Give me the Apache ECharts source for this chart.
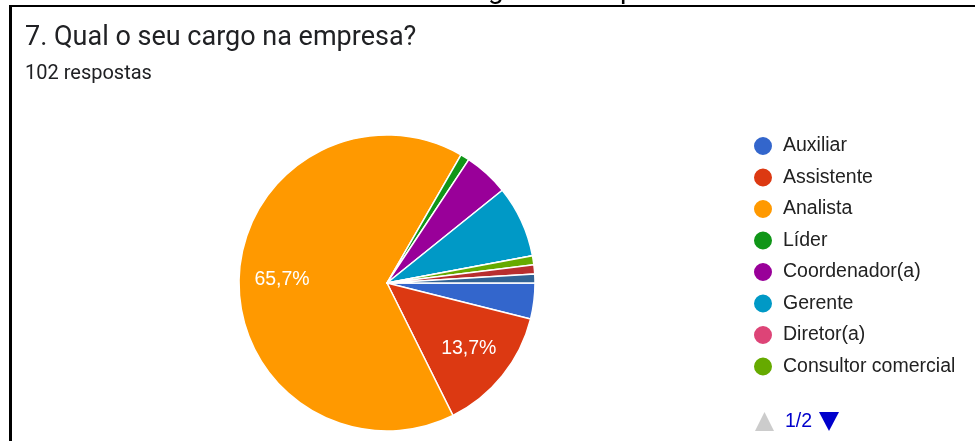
<!DOCTYPE html>
<html>
<head>
<meta charset="utf-8">
<script src="https://cdn.jsdelivr.net/npm/echarts@6/dist/echarts.min.js"></script>
<style>
  html, body { margin: 0; padding: 0; background: #fff; }
  #chart { width: 975px; height: 441px; }
</style>
</head>
<body>
<div id="chart"></div>
<script>
// respostas por cargo (102 no total), na ordem da legenda
const cargos = ['Auxiliar', 'Assistente', 'Analista', 'Líder', 'Coordenador(a)', 'Gerente',
  'Diretor(a)', 'Consultor comercial', 'Supervisor(a)', 'Proprietário(a)'];
const respostas = [4, 14, 67, 1, 5, 8, 0, 1, 1, 1];
const cores = ['#3366cc', '#dc3912', '#ff9900', '#109618', '#990099', '#0099c6',
  '#dd4477', '#66aa00', '#b82e2e', '#316395'];
const paginaLegenda = '1/2';
const total = respostas.reduce((a, b) => a + b, 0);

const chart = echarts.init(document.getElementById('chart'));
const dados = cargos.map((n, i) => ({ name: n, value: respostas[i], itemStyle: { color: cores[i] } }));

const option = {
  backgroundColor: '#fff',
  animation: false,
  title: {
    text: '7. Qual o seu cargo na empresa?',
    subtext: total + ' respostas',
    left: 20,
    top: 20,
    itemGap: 12,
    textStyle: { fontFamily: 'Roboto', fontSize: 27, fontWeight: 'normal', color: '#202124' },
    subtextStyle: { fontFamily: 'Roboto', fontSize: 20, color: '#202124' }
  },
  legend: {
    orient: 'vertical',
    left: 747,
    top: 130,
    icon: 'circle',
    itemWidth: 20,
    itemHeight: 20,
    itemGap: 9.5,
    data: cargos.slice(0, 8), // página 1 de 2
    textStyle: { fontFamily: 'Liberation Sans', fontSize: 19.5, color: '#222', padding: [0, 0, 0, 5] }
  },
  graphic: [
    { type: 'rect', shape: { x: 9, y: 5, width: 966, height: 2 }, style: { fill: '#000' } },
    { type: 'rect', shape: { x: 9, y: 5, width: 3, height: 436 }, style: { fill: '#000' } },
    { type: 'text', x: 488, y: 5, style: { text: 'g', fontFamily: 'Roboto', fontSize: 28, fill: '#000', verticalAlign: 'bottom' } },
    { type: 'text', x: 620, y: 5, style: { text: 'p', fontFamily: 'Roboto', fontSize: 28, fill: '#000', verticalAlign: 'bottom' } },
    // controle de página da legenda
    { type: 'polygon', shape: { points: [[755, 431], [764.5, 412], [774, 431]] }, style: { fill: '#cccccc' } },
    { type: 'text', x: 785, y: 421.5, style: { text: paginaLegenda, fontFamily: 'Liberation Sans', fontSize: 19.5, fill: '#0000cc', verticalAlign: 'middle' } },
    { type: 'polygon', shape: { points: [[819, 412], [829, 431], [839, 412]] }, style: { fill: '#0000cc' } }
  ],
  series: [
    {
      type: 'pie',
      center: [387, 283],
      radius: [0, 148],
      startAngle: 0,
      clockwise: true,
      data: dados,
      label: { show: false },
      labelLine: { show: false },
      itemStyle: { borderColor: '#fff', borderWidth: 1.5 },
      emphasis: { disabled: true }
    },
    {
      // camada só para os rótulos de porcentagem
      type: 'pie',
      center: [387, 283],
      radius: [56, 148],
      startAngle: 0,
      clockwise: true,
      silent: true,
      data: cargos.map((n, i) => ({ name: n, value: respostas[i] })),
      itemStyle: { color: 'rgba(0,0,0,0)' },
      label: {
        show: true,
        position: 'inside',
        fontFamily: 'Liberation Sans',
        fontSize: 19.5,
        color: '#fff',
        formatter: p => p.value / total >= 0.1 ? (p.value / total * 100).toFixed(1).replace('.', ',') + '%' : ''
      },
      labelLine: { show: false },
      emphasis: { disabled: true },
      tooltip: { show: false }
    }
  ]
};
chart.setOption(option);
</script>
</body>
</html>
